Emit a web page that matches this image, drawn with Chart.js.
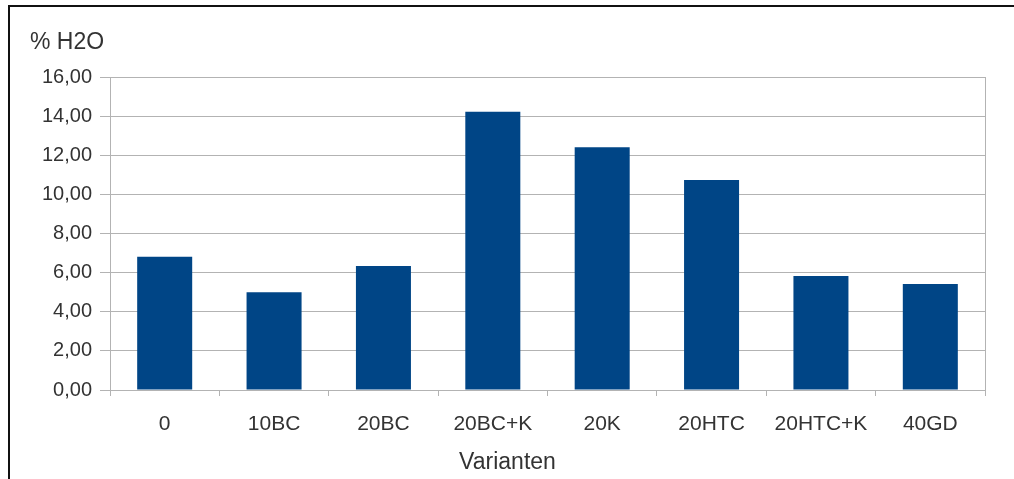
<!DOCTYPE html>
<html>
<head>
<meta charset="utf-8">
<script src="https://cdn.jsdelivr.net/npm/chart.js@4/dist/chart.umd.min.js"></script>
<style>
  html, body { margin: 0; padding: 0; background: #fff; }
  #wrap { position: relative; width: 1014px; height: 479px; overflow: hidden; }
  #frame {
    position: absolute; left: 8px; top: 5px; right: -4px; bottom: -4px;
    border-left: 2px solid #111; border-top: 2px solid #111;
  }
  #chart { position: absolute; left: 0; top: 0; }
</style>
</head>
<body>
<div id="wrap">
  <div id="frame"></div>
  <canvas id="chart" width="1014" height="479"></canvas>
</div>
<script>
(function () {
  "use strict";

  var categories = ["0", "10BC", "20BC", "20BC+K", "20K", "20HTC", "20HTC+K", "40GD"];
  var waterContent = [6.81, 5.00, 6.34, 14.23, 12.41, 10.74, 5.83, 5.42];
  var yTicks = [0, 2, 4, 6, 8, 10, 12, 14, 16];

  var GRID = "#b3b3b3";
  var TEXT = "#333333";
  var FONT = "'Liberation Sans', Arial, sans-serif";

  function fmt(v) {
    return v.toFixed(2).replace(".", ",");
  }

  new Chart(document.getElementById("chart"), {
    type: "bar",
    data: {
      labels: categories,
      datasets: [{
        data: waterContent,
        backgroundColor: "#004586",
        borderWidth: 0,
        categoryPercentage: 0.503,
        barPercentage: 1
      }]
    },
    options: {
      responsive: false,
      animation: false,
      events: [],
      layout: { padding: { left: 30, right: 29, top: 0, bottom: 0 } },
      plugins: {
        legend: { display: false },
        tooltip: { enabled: false },
        title: {
          display: true,
          text: "% H2O",
          align: "start",
          color: TEXT,
          font: { family: FONT, size: 23, weight: "normal" },
          padding: { top: 29, bottom: 20.4 }
        },
        // axis caption sits centred under the whole chart, not just the plot
        subtitle: {
          display: true,
          position: "bottom",
          text: "Varianten",
          color: TEXT,
          font: { family: FONT, size: 23, weight: "normal" },
          padding: { top: 0, bottom: 2.2 }
        }
      },
      scales: {
        x: {
          grid: {
            offset: true,
            drawOnChartArea: false,
            drawTicks: true,
            tickLength: 6,
            color: GRID
          },
          border: { color: GRID },
          ticks: {
            color: TEXT,
            font: { family: FONT, size: 21 },
            padding: 16,
            maxRotation: 0,
            autoSkip: false
          },
          afterFit: function (scale) { scale.height = 59.2; }
        },
        y: {
          min: 0,
          max: 16,
          afterBuildTicks: function (scale) {
            scale.ticks = yTicks.map(function (v) { return { value: v }; });
          },
          grid: { color: GRID, tickLength: 10 },
          border: { color: GRID },
          ticks: {
            color: TEXT,
            font: { family: FONT, size: 20 },
            padding: 8,
            callback: function (v) { return fmt(v); }
          },
          afterFit: function (scale) { scale.width = 80; }
        },
        yRight: {
          position: "right",
          min: 0,
          max: 16,
          grid: { display: false },
          border: { display: true, color: GRID },
          ticks: { display: false },
          afterFit: function (scale) { scale.width = 0; }
        }
      }
    }
  });
})();
</script>
</body>
</html>
